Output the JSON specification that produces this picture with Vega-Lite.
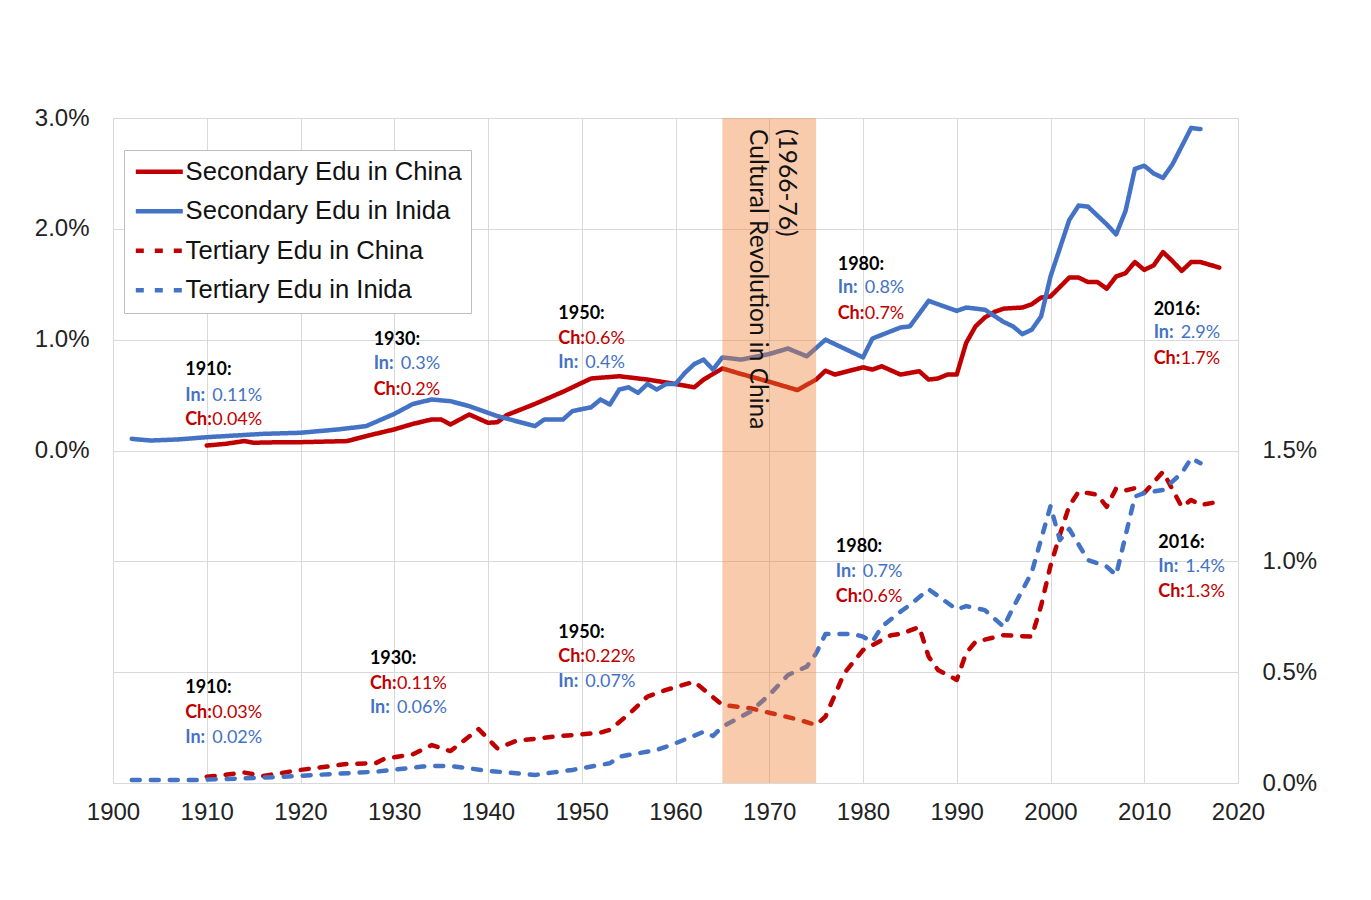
{
  "$schema": "https://vega.github.io/schema/vega-lite/v6.json",
  "width": 1125,
  "height": 665,
  "autosize": {"type": "none"},
  "padding": {"left": 113, "top": 118, "right": 133, "bottom": 117},
  "background": "white",
  "config": {
    "view": {"stroke": "#d9d9d9"},
    "axis": {"labelFont": "Liberation Sans", "labelFontSize": 24, "labelColor": "#222222", "title": null, "ticks": false},
    "legend": {
      "title": null,
      "orient": "none",
      "legendX": 11,
      "legendY": 32,
      "direction": "vertical",
      "fillColor": "white",
      "strokeColor": "#bfbfbf",
      "padding": 9,
      "labelFont": "Liberation Sans",
      "labelFontSize": 25.6,
      "labelColor": "#111111",
      "labelLimit": 500,
      "labelOffset": 27,
      "symbolType": "M-1,0H3.7",
      "symbolStrokeWidth": 4.5,
      "symbolSize": 400,
      "rowPadding": 12.5
    }
  },
  "datasets": {
    "sec": [
      {"s": "Secondary Edu in China", "year": 1910, "v": 0.045},
      {"s": "Secondary Edu in China", "year": 1912, "v": 0.06},
      {"s": "Secondary Edu in China", "year": 1914, "v": 0.085},
      {"s": "Secondary Edu in China", "year": 1915, "v": 0.07},
      {"s": "Secondary Edu in China", "year": 1918, "v": 0.075},
      {"s": "Secondary Edu in China", "year": 1920, "v": 0.075},
      {"s": "Secondary Edu in China", "year": 1925, "v": 0.085},
      {"s": "Secondary Edu in China", "year": 1927, "v": 0.13},
      {"s": "Secondary Edu in China", "year": 1930, "v": 0.19},
      {"s": "Secondary Edu in China", "year": 1932, "v": 0.24},
      {"s": "Secondary Edu in China", "year": 1934, "v": 0.28},
      {"s": "Secondary Edu in China", "year": 1935, "v": 0.28},
      {"s": "Secondary Edu in China", "year": 1936, "v": 0.235},
      {"s": "Secondary Edu in China", "year": 1938, "v": 0.325},
      {"s": "Secondary Edu in China", "year": 1940, "v": 0.25},
      {"s": "Secondary Edu in China", "year": 1941, "v": 0.255},
      {"s": "Secondary Edu in China", "year": 1942, "v": 0.32},
      {"s": "Secondary Edu in China", "year": 1945, "v": 0.42},
      {"s": "Secondary Edu in China", "year": 1948, "v": 0.53},
      {"s": "Secondary Edu in China", "year": 1951, "v": 0.65},
      {"s": "Secondary Edu in China", "year": 1954, "v": 0.67},
      {"s": "Secondary Edu in China", "year": 1957, "v": 0.64},
      {"s": "Secondary Edu in China", "year": 1960, "v": 0.6},
      {"s": "Secondary Edu in China", "year": 1962, "v": 0.57},
      {"s": "Secondary Edu in China", "year": 1963, "v": 0.64},
      {"s": "Secondary Edu in China", "year": 1965, "v": 0.74},
      {"s": "Secondary Edu in China", "year": 1967, "v": 0.69},
      {"s": "Secondary Edu in China", "year": 1970, "v": 0.62},
      {"s": "Secondary Edu in China", "year": 1973, "v": 0.545},
      {"s": "Secondary Edu in China", "year": 1975, "v": 0.64},
      {"s": "Secondary Edu in China", "year": 1976, "v": 0.72},
      {"s": "Secondary Edu in China", "year": 1977, "v": 0.685},
      {"s": "Secondary Edu in China", "year": 1980, "v": 0.75},
      {"s": "Secondary Edu in China", "year": 1981, "v": 0.73},
      {"s": "Secondary Edu in China", "year": 1982, "v": 0.76},
      {"s": "Secondary Edu in China", "year": 1984, "v": 0.685},
      {"s": "Secondary Edu in China", "year": 1986, "v": 0.715},
      {"s": "Secondary Edu in China", "year": 1987, "v": 0.64},
      {"s": "Secondary Edu in China", "year": 1988, "v": 0.65},
      {"s": "Secondary Edu in China", "year": 1989, "v": 0.685},
      {"s": "Secondary Edu in China", "year": 1990, "v": 0.685},
      {"s": "Secondary Edu in China", "year": 1991, "v": 0.97},
      {"s": "Secondary Edu in China", "year": 1992, "v": 1.12},
      {"s": "Secondary Edu in China", "year": 1993, "v": 1.2},
      {"s": "Secondary Edu in China", "year": 1994, "v": 1.25},
      {"s": "Secondary Edu in China", "year": 1995, "v": 1.28},
      {"s": "Secondary Edu in China", "year": 1997, "v": 1.29},
      {"s": "Secondary Edu in China", "year": 1998, "v": 1.32},
      {"s": "Secondary Edu in China", "year": 1999, "v": 1.38},
      {"s": "Secondary Edu in China", "year": 2000, "v": 1.39},
      {"s": "Secondary Edu in China", "year": 2002, "v": 1.56},
      {"s": "Secondary Edu in China", "year": 2003, "v": 1.56},
      {"s": "Secondary Edu in China", "year": 2004, "v": 1.52},
      {"s": "Secondary Edu in China", "year": 2005, "v": 1.52},
      {"s": "Secondary Edu in China", "year": 2006, "v": 1.46},
      {"s": "Secondary Edu in China", "year": 2007, "v": 1.57},
      {"s": "Secondary Edu in China", "year": 2008, "v": 1.6},
      {"s": "Secondary Edu in China", "year": 2009, "v": 1.7},
      {"s": "Secondary Edu in China", "year": 2010, "v": 1.63},
      {"s": "Secondary Edu in China", "year": 2011, "v": 1.67},
      {"s": "Secondary Edu in China", "year": 2012, "v": 1.79},
      {"s": "Secondary Edu in China", "year": 2013, "v": 1.71},
      {"s": "Secondary Edu in China", "year": 2014, "v": 1.62},
      {"s": "Secondary Edu in China", "year": 2015, "v": 1.7},
      {"s": "Secondary Edu in China", "year": 2016, "v": 1.7},
      {"s": "Secondary Edu in China", "year": 2018, "v": 1.65},
      {"s": "Secondary Edu in Inida", "year": 1902, "v": 0.105},
      {"s": "Secondary Edu in Inida", "year": 1904, "v": 0.09},
      {"s": "Secondary Edu in Inida", "year": 1907, "v": 0.1},
      {"s": "Secondary Edu in Inida", "year": 1910, "v": 0.12},
      {"s": "Secondary Edu in Inida", "year": 1913, "v": 0.135},
      {"s": "Secondary Edu in Inida", "year": 1916, "v": 0.15},
      {"s": "Secondary Edu in Inida", "year": 1920, "v": 0.16},
      {"s": "Secondary Edu in Inida", "year": 1924, "v": 0.19},
      {"s": "Secondary Edu in Inida", "year": 1927, "v": 0.22},
      {"s": "Secondary Edu in Inida", "year": 1930, "v": 0.33},
      {"s": "Secondary Edu in Inida", "year": 1932, "v": 0.42},
      {"s": "Secondary Edu in Inida", "year": 1934, "v": 0.46},
      {"s": "Secondary Edu in Inida", "year": 1936, "v": 0.445},
      {"s": "Secondary Edu in Inida", "year": 1938, "v": 0.4},
      {"s": "Secondary Edu in Inida", "year": 1940, "v": 0.34},
      {"s": "Secondary Edu in Inida", "year": 1941, "v": 0.31},
      {"s": "Secondary Edu in Inida", "year": 1945, "v": 0.22},
      {"s": "Secondary Edu in Inida", "year": 1946, "v": 0.28},
      {"s": "Secondary Edu in Inida", "year": 1948, "v": 0.28},
      {"s": "Secondary Edu in Inida", "year": 1949, "v": 0.355},
      {"s": "Secondary Edu in Inida", "year": 1951, "v": 0.39},
      {"s": "Secondary Edu in Inida", "year": 1952, "v": 0.46},
      {"s": "Secondary Edu in Inida", "year": 1953, "v": 0.415},
      {"s": "Secondary Edu in Inida", "year": 1954, "v": 0.55},
      {"s": "Secondary Edu in Inida", "year": 1955, "v": 0.57},
      {"s": "Secondary Edu in Inida", "year": 1956, "v": 0.52},
      {"s": "Secondary Edu in Inida", "year": 1957, "v": 0.6},
      {"s": "Secondary Edu in Inida", "year": 1958, "v": 0.55},
      {"s": "Secondary Edu in Inida", "year": 1959, "v": 0.6},
      {"s": "Secondary Edu in Inida", "year": 1960, "v": 0.6},
      {"s": "Secondary Edu in Inida", "year": 1961, "v": 0.7},
      {"s": "Secondary Edu in Inida", "year": 1962, "v": 0.78},
      {"s": "Secondary Edu in Inida", "year": 1963, "v": 0.82},
      {"s": "Secondary Edu in Inida", "year": 1964, "v": 0.73},
      {"s": "Secondary Edu in Inida", "year": 1965, "v": 0.84},
      {"s": "Secondary Edu in Inida", "year": 1967, "v": 0.82},
      {"s": "Secondary Edu in Inida", "year": 1970, "v": 0.87},
      {"s": "Secondary Edu in Inida", "year": 1972, "v": 0.92},
      {"s": "Secondary Edu in Inida", "year": 1974, "v": 0.85},
      {"s": "Secondary Edu in Inida", "year": 1976, "v": 1.0},
      {"s": "Secondary Edu in Inida", "year": 1980, "v": 0.84},
      {"s": "Secondary Edu in Inida", "year": 1981, "v": 1.01},
      {"s": "Secondary Edu in Inida", "year": 1984, "v": 1.11},
      {"s": "Secondary Edu in Inida", "year": 1985, "v": 1.12},
      {"s": "Secondary Edu in Inida", "year": 1987, "v": 1.35},
      {"s": "Secondary Edu in Inida", "year": 1988, "v": 1.32},
      {"s": "Secondary Edu in Inida", "year": 1990, "v": 1.26},
      {"s": "Secondary Edu in Inida", "year": 1991, "v": 1.29},
      {"s": "Secondary Edu in Inida", "year": 1993, "v": 1.27},
      {"s": "Secondary Edu in Inida", "year": 1995, "v": 1.16},
      {"s": "Secondary Edu in Inida", "year": 1996, "v": 1.12},
      {"s": "Secondary Edu in Inida", "year": 1997, "v": 1.05},
      {"s": "Secondary Edu in Inida", "year": 1998, "v": 1.09},
      {"s": "Secondary Edu in Inida", "year": 1999, "v": 1.21},
      {"s": "Secondary Edu in Inida", "year": 2000, "v": 1.57},
      {"s": "Secondary Edu in Inida", "year": 2002, "v": 2.08},
      {"s": "Secondary Edu in Inida", "year": 2003, "v": 2.21},
      {"s": "Secondary Edu in Inida", "year": 2004, "v": 2.2},
      {"s": "Secondary Edu in Inida", "year": 2005, "v": 2.12},
      {"s": "Secondary Edu in Inida", "year": 2006, "v": 2.04},
      {"s": "Secondary Edu in Inida", "year": 2007, "v": 1.95},
      {"s": "Secondary Edu in Inida", "year": 2008, "v": 2.16},
      {"s": "Secondary Edu in Inida", "year": 2009, "v": 2.54},
      {"s": "Secondary Edu in Inida", "year": 2010, "v": 2.57},
      {"s": "Secondary Edu in Inida", "year": 2011, "v": 2.5},
      {"s": "Secondary Edu in Inida", "year": 2012, "v": 2.46},
      {"s": "Secondary Edu in Inida", "year": 2013, "v": 2.58},
      {"s": "Secondary Edu in Inida", "year": 2015, "v": 2.91},
      {"s": "Secondary Edu in Inida", "year": 2016, "v": 2.9}
    ],
    "ter": [
      {"s": "Tertiary Edu in China", "year": 1910, "v": 0.028},
      {"s": "Tertiary Edu in China", "year": 1914, "v": 0.047},
      {"s": "Tertiary Edu in China", "year": 1916, "v": 0.032},
      {"s": "Tertiary Edu in China", "year": 1920, "v": 0.059},
      {"s": "Tertiary Edu in China", "year": 1925, "v": 0.086},
      {"s": "Tertiary Edu in China", "year": 1928, "v": 0.089},
      {"s": "Tertiary Edu in China", "year": 1929, "v": 0.11},
      {"s": "Tertiary Edu in China", "year": 1932, "v": 0.13},
      {"s": "Tertiary Edu in China", "year": 1934, "v": 0.171},
      {"s": "Tertiary Edu in China", "year": 1936, "v": 0.144},
      {"s": "Tertiary Edu in China", "year": 1939, "v": 0.243},
      {"s": "Tertiary Edu in China", "year": 1941, "v": 0.156},
      {"s": "Tertiary Edu in China", "year": 1943, "v": 0.19},
      {"s": "Tertiary Edu in China", "year": 1947, "v": 0.209},
      {"s": "Tertiary Edu in China", "year": 1952, "v": 0.227},
      {"s": "Tertiary Edu in China", "year": 1953, "v": 0.24},
      {"s": "Tertiary Edu in China", "year": 1955, "v": 0.31},
      {"s": "Tertiary Edu in China", "year": 1957, "v": 0.39},
      {"s": "Tertiary Edu in China", "year": 1959, "v": 0.42},
      {"s": "Tertiary Edu in China", "year": 1962, "v": 0.457},
      {"s": "Tertiary Edu in China", "year": 1965, "v": 0.352},
      {"s": "Tertiary Edu in China", "year": 1968, "v": 0.337},
      {"s": "Tertiary Edu in China", "year": 1970, "v": 0.317},
      {"s": "Tertiary Edu in China", "year": 1973, "v": 0.287},
      {"s": "Tertiary Edu in China", "year": 1975, "v": 0.262},
      {"s": "Tertiary Edu in China", "year": 1976, "v": 0.3},
      {"s": "Tertiary Edu in China", "year": 1978, "v": 0.495},
      {"s": "Tertiary Edu in China", "year": 1980, "v": 0.6},
      {"s": "Tertiary Edu in China", "year": 1981, "v": 0.622},
      {"s": "Tertiary Edu in China", "year": 1983, "v": 0.667},
      {"s": "Tertiary Edu in China", "year": 1984, "v": 0.672},
      {"s": "Tertiary Edu in China", "year": 1986, "v": 0.704},
      {"s": "Tertiary Edu in China", "year": 1987, "v": 0.57},
      {"s": "Tertiary Edu in China", "year": 1988, "v": 0.51},
      {"s": "Tertiary Edu in China", "year": 1990, "v": 0.465},
      {"s": "Tertiary Edu in China", "year": 1991, "v": 0.586},
      {"s": "Tertiary Edu in China", "year": 1992, "v": 0.637},
      {"s": "Tertiary Edu in China", "year": 1995, "v": 0.667},
      {"s": "Tertiary Edu in China", "year": 1998, "v": 0.66},
      {"s": "Tertiary Edu in China", "year": 1999, "v": 0.8},
      {"s": "Tertiary Edu in China", "year": 2000, "v": 0.98},
      {"s": "Tertiary Edu in China", "year": 2001, "v": 1.12},
      {"s": "Tertiary Edu in China", "year": 2002, "v": 1.25},
      {"s": "Tertiary Edu in China", "year": 2003, "v": 1.314},
      {"s": "Tertiary Edu in China", "year": 2004, "v": 1.308},
      {"s": "Tertiary Edu in China", "year": 2005, "v": 1.3},
      {"s": "Tertiary Edu in China", "year": 2006, "v": 1.246},
      {"s": "Tertiary Edu in China", "year": 2007, "v": 1.329},
      {"s": "Tertiary Edu in China", "year": 2008, "v": 1.32},
      {"s": "Tertiary Edu in China", "year": 2009, "v": 1.33},
      {"s": "Tertiary Edu in China", "year": 2010, "v": 1.308},
      {"s": "Tertiary Edu in China", "year": 2012, "v": 1.404},
      {"s": "Tertiary Edu in China", "year": 2014, "v": 1.246},
      {"s": "Tertiary Edu in China", "year": 2015, "v": 1.277},
      {"s": "Tertiary Edu in China", "year": 2016, "v": 1.254},
      {"s": "Tertiary Edu in China", "year": 2018, "v": 1.269},
      {"s": "Tertiary Edu in Inida", "year": 1902, "v": 0.014},
      {"s": "Tertiary Edu in Inida", "year": 1909, "v": 0.014},
      {"s": "Tertiary Edu in Inida", "year": 1914, "v": 0.021},
      {"s": "Tertiary Edu in Inida", "year": 1918, "v": 0.028},
      {"s": "Tertiary Edu in Inida", "year": 1928, "v": 0.051},
      {"s": "Tertiary Edu in Inida", "year": 1933, "v": 0.074},
      {"s": "Tertiary Edu in Inida", "year": 1934, "v": 0.077},
      {"s": "Tertiary Edu in Inida", "year": 1936, "v": 0.077},
      {"s": "Tertiary Edu in Inida", "year": 1940, "v": 0.055},
      {"s": "Tertiary Edu in Inida", "year": 1945, "v": 0.036},
      {"s": "Tertiary Edu in Inida", "year": 1947, "v": 0.048},
      {"s": "Tertiary Edu in Inida", "year": 1949, "v": 0.059},
      {"s": "Tertiary Edu in Inida", "year": 1953, "v": 0.089},
      {"s": "Tertiary Edu in Inida", "year": 1954, "v": 0.119},
      {"s": "Tertiary Edu in Inida", "year": 1958, "v": 0.149},
      {"s": "Tertiary Edu in Inida", "year": 1960, "v": 0.179},
      {"s": "Tertiary Edu in Inida", "year": 1963, "v": 0.231},
      {"s": "Tertiary Edu in Inida", "year": 1964, "v": 0.212},
      {"s": "Tertiary Edu in Inida", "year": 1965, "v": 0.254},
      {"s": "Tertiary Edu in Inida", "year": 1968, "v": 0.322},
      {"s": "Tertiary Edu in Inida", "year": 1970, "v": 0.397},
      {"s": "Tertiary Edu in Inida", "year": 1972, "v": 0.487},
      {"s": "Tertiary Edu in Inida", "year": 1974, "v": 0.525},
      {"s": "Tertiary Edu in Inida", "year": 1975, "v": 0.585},
      {"s": "Tertiary Edu in Inida", "year": 1976, "v": 0.672},
      {"s": "Tertiary Edu in Inida", "year": 1979, "v": 0.672},
      {"s": "Tertiary Edu in Inida", "year": 1980, "v": 0.66},
      {"s": "Tertiary Edu in Inida", "year": 1981, "v": 0.637},
      {"s": "Tertiary Edu in Inida", "year": 1982, "v": 0.705},
      {"s": "Tertiary Edu in Inida", "year": 1984, "v": 0.773},
      {"s": "Tertiary Edu in Inida", "year": 1985, "v": 0.803},
      {"s": "Tertiary Edu in Inida", "year": 1987, "v": 0.874},
      {"s": "Tertiary Edu in Inida", "year": 1990, "v": 0.783},
      {"s": "Tertiary Edu in Inida", "year": 1991, "v": 0.798},
      {"s": "Tertiary Edu in Inida", "year": 1993, "v": 0.78},
      {"s": "Tertiary Edu in Inida", "year": 1995, "v": 0.705},
      {"s": "Tertiary Edu in Inida", "year": 1996, "v": 0.79},
      {"s": "Tertiary Edu in Inida", "year": 1997, "v": 0.87},
      {"s": "Tertiary Edu in Inida", "year": 1998, "v": 0.95},
      {"s": "Tertiary Edu in Inida", "year": 1999, "v": 1.1},
      {"s": "Tertiary Edu in Inida", "year": 2000, "v": 1.249},
      {"s": "Tertiary Edu in Inida", "year": 2001, "v": 1.096},
      {"s": "Tertiary Edu in Inida", "year": 2002, "v": 1.146},
      {"s": "Tertiary Edu in Inida", "year": 2004, "v": 1.006},
      {"s": "Tertiary Edu in Inida", "year": 2006, "v": 0.976},
      {"s": "Tertiary Edu in Inida", "year": 2007, "v": 0.938},
      {"s": "Tertiary Edu in Inida", "year": 2009, "v": 1.292},
      {"s": "Tertiary Edu in Inida", "year": 2010, "v": 1.308},
      {"s": "Tertiary Edu in Inida", "year": 2012, "v": 1.322},
      {"s": "Tertiary Edu in Inida", "year": 2014, "v": 1.398},
      {"s": "Tertiary Edu in Inida", "year": 2015, "v": 1.465},
      {"s": "Tertiary Edu in Inida", "year": 2016, "v": 1.443}
    ],
    "annTop": [
      {"ax": 1907.7, "v": 0.722, "p": "1910:", "t": "", "w": "hdr"},
      {"ax": 1907.7, "v": 0.496, "p": "In:", "t": "0.11%", "w": "In"},
      {"ax": 1907.7, "v": 0.271, "p": "Ch:", "t": "0.04%", "w": "Ch"},
      {"ax": 1927.8, "v": 1.0, "p": "1930:", "t": "", "w": "hdr"},
      {"ax": 1927.8, "v": 0.776, "p": "In:", "t": "0.3%", "w": "In"},
      {"ax": 1927.8, "v": 0.55, "p": "Ch:", "t": "0.2%", "w": "Ch"},
      {"ax": 1947.5, "v": 1.236, "p": "1950:", "t": "", "w": "hdr"},
      {"ax": 1947.5, "v": 1.01, "p": "Ch:", "t": "0.6%", "w": "Ch"},
      {"ax": 1947.5, "v": 0.785, "p": "In:", "t": "0.4%", "w": "In"},
      {"ax": 1977.3, "v": 1.678, "p": "1980:", "t": "", "w": "hdr"},
      {"ax": 1977.3, "v": 1.462, "p": "In:", "t": "0.8%", "w": "In"},
      {"ax": 1977.3, "v": 1.236, "p": "Ch:", "t": "0.7%", "w": "Ch"},
      {"ax": 2011.0, "v": 1.272, "p": "2016:", "t": "", "w": "hdr"},
      {"ax": 2011.0, "v": 1.056, "p": "In:", "t": "2.9%", "w": "In"},
      {"ax": 2011.0, "v": 0.83, "p": "Ch:", "t": "1.7%", "w": "Ch"}
    ],
    "annBot": [
      {"ax": 1907.7, "v": 0.4285, "p": "1910:", "t": "", "w": "hdr"},
      {"ax": 1907.7, "v": 0.316, "p": "Ch:", "t": "0.03%", "w": "Ch"},
      {"ax": 1907.7, "v": 0.203, "p": "In:", "t": "0.02%", "w": "In"},
      {"ax": 1927.4, "v": 0.559, "p": "1930:", "t": "", "w": "hdr"},
      {"ax": 1927.4, "v": 0.4466, "p": "Ch:", "t": "0.11%", "w": "Ch"},
      {"ax": 1927.4, "v": 0.338, "p": "In:", "t": "0.06%", "w": "In"},
      {"ax": 1947.5, "v": 0.677, "p": "1950:", "t": "", "w": "hdr"},
      {"ax": 1947.5, "v": 0.568, "p": "Ch:", "t": "0.22%", "w": "Ch"},
      {"ax": 1947.5, "v": 0.456, "p": "In:", "t": "0.07%", "w": "In"},
      {"ax": 1977.1, "v": 1.0645, "p": "1980:", "t": "", "w": "hdr"},
      {"ax": 1977.1, "v": 0.952, "p": "In:", "t": "0.7%", "w": "In"},
      {"ax": 1977.1, "v": 0.839, "p": "Ch:", "t": "0.6%", "w": "Ch"},
      {"ax": 2011.5, "v": 1.0825, "p": "2016:", "t": "", "w": "hdr"},
      {"ax": 2011.5, "v": 0.974, "p": "In:", "t": "1.4%", "w": "In"},
      {"ax": 2011.5, "v": 0.8615, "p": "Ch:", "t": "1.3%", "w": "Ch"}
    ],
    "band": [{"start": 1965, "end": 1975}],
    "bandText": [
      {"ax": 1968.7, "v": 2.9, "label": "Cultural Revolution in China"},
      {"ax": 1971.8, "v": 2.9, "label": "(1966-76)"}
    ]
  },
  "resolve": {"scale": {"y": "independent"}},
  "layer": [
    {
      "layer": [
        {
          "mark": {"type": "rule", "color": "#a6a6a6", "strokeWidth": 1.5},
          "encoding": {"y": {"datum": 0, "type": "quantitative"}}
        },
        {
          "data": {"name": "sec"},
          "mark": {"type": "line", "strokeWidth": 4.5, "strokeCap": "round", "strokeJoin": "round"},
          "encoding": {
            "x": {"field": "year", "type": "quantitative"},
            "y": {"field": "v", "type": "quantitative"},
            "color": {"field": "s", "type": "nominal"},
            "strokeDash": {"field": "s", "type": "nominal"}
          }
        },
        {
          "data": {"name": "annTop"},
          "mark": {"type": "text", "align": "left", "baseline": "middle", "font": "Lato", "fontSize": 18, "fontWeight": "bold"},
          "encoding": {
            "x": {"field": "ax", "type": "quantitative"},
            "y": {"field": "v", "type": "quantitative"},
            "text": {"field": "p"},
            "fill": {"field": "w", "type": "nominal", "legend": null}
          }
        },
        {
          "data": {"name": "annTop"},
          "mark": {"type": "text", "align": "left", "baseline": "middle", "font": "Lato", "fontSize": 18, "dx": 27},
          "encoding": {
            "x": {"field": "ax", "type": "quantitative"},
            "y": {"field": "v", "type": "quantitative"},
            "text": {"field": "t"},
            "fill": {"field": "w", "type": "nominal", "legend": null}
          }
        }
      ],
      "encoding": {
        "y": {
          "scale": {"domain": [-3, 3], "nice": false, "zero": false},
          "axis": {
            "orient": "left",
            "values": [-3, -2, -1, 0, 1, 2, 3],
            "labelExpr": "datum.value >= 0 ? format(datum.value, '.1f') + '%' : ''",
            "grid": true,
            "gridColor": "#d9d9d9",
            "domain": false,
            "labelPadding": 24
          }
        }
      }
    },
    {
      "layer": [
        {
          "data": {"name": "ter"},
          "mark": {"type": "line", "strokeWidth": 4.5, "strokeCap": "round", "strokeJoin": "round"},
          "encoding": {
            "x": {"field": "year", "type": "quantitative"},
            "y": {"field": "v", "type": "quantitative"},
            "color": {"field": "s", "type": "nominal"},
            "strokeDash": {"field": "s", "type": "nominal"}
          }
        },
        {
          "data": {"name": "annBot"},
          "mark": {"type": "text", "align": "left", "baseline": "middle", "font": "Lato", "fontSize": 18, "fontWeight": "bold"},
          "encoding": {
            "x": {"field": "ax", "type": "quantitative"},
            "y": {"field": "v", "type": "quantitative"},
            "text": {"field": "p"},
            "fill": {"field": "w", "type": "nominal", "legend": null}
          }
        },
        {
          "data": {"name": "annBot"},
          "mark": {"type": "text", "align": "left", "baseline": "middle", "font": "Lato", "fontSize": 18, "dx": 27},
          "encoding": {
            "x": {"field": "ax", "type": "quantitative"},
            "y": {"field": "v", "type": "quantitative"},
            "text": {"field": "t"},
            "fill": {"field": "w", "type": "nominal", "legend": null}
          }
        }
      ],
      "encoding": {
        "y": {
          "scale": {"domain": [0, 3], "nice": false, "zero": false},
          "axis": {
            "orient": "right",
            "values": [0, 0.5, 1, 1.5],
            "labelExpr": "format(datum.value, '.1f') + '%'",
            "grid": false,
            "domain": false,
            "labelPadding": 24
          }
        }
      }
    },
    {
      "data": {"name": "band"},
      "mark": {"type": "rect", "color": "#ED7D31", "opacity": 0.4},
      "encoding": {
        "x": {"field": "start", "type": "quantitative"},
        "x2": {"field": "end"}
      }
    },
    {
      "data": {"name": "bandText"},
      "mark": {"type": "text", "angle": 90, "align": "left", "baseline": "middle", "font": "Lato", "fontSize": 24.5, "color": "#111111"},
      "encoding": {
        "x": {"field": "ax", "type": "quantitative"},
        "y": {"field": "v", "type": "quantitative", "scale": {"domain": [-3, 3], "nice": false, "zero": false}, "axis": null},
        "text": {"field": "label"}
      }
    }
  ],
  "encoding": {
    "x": {
      "type": "quantitative",
      "scale": {"domain": [1900, 2020], "nice": false, "zero": false},
      "axis": {
        "values": [1900, 1910, 1920, 1930, 1940, 1950, 1960, 1970, 1980, 1990, 2000, 2010, 2020],
        "format": "d",
        "grid": true,
        "gridColor": "#d9d9d9",
        "domainColor": "#d9d9d9",
        "labelPadding": 17,
        "labelFlush": false,
        "labelOverlap": false,
        "labelBound": false
      }
    },
    "color": {
      "scale": {
        "domain": ["Secondary Edu in China", "Secondary Edu in Inida", "Tertiary Edu in China", "Tertiary Edu in Inida"],
        "range": ["#C00000", "#4472C4", "#C00000", "#4472C4"]
      }
    },
    "strokeDash": {
      "scale": {
        "domain": ["Secondary Edu in China", "Secondary Edu in Inida", "Tertiary Edu in China", "Tertiary Edu in Inida"],
        "range": [[1, 0], [1, 0], [8, 11], [8, 11]]
      }
    },
    "fill": {
      "scale": {"domain": ["hdr", "In", "Ch"], "range": ["#000000", "#4472C4", "#C00000"]}
    }
  }
}
